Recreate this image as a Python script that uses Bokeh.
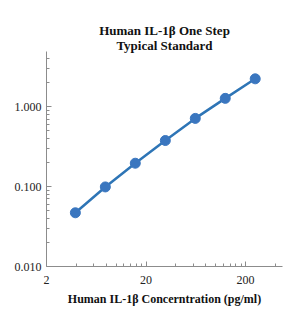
from bokeh.plotting import figure
from bokeh.models import FixedTicker, CustomJSTickFormatter, Title, Range1d
from bokeh.embed import file_html
from bokeh.resources import INLINE

# Data
conc = [3.9, 7.8, 15.6, 31.25, 62.5, 125, 250]
od = [0.047, 0.099, 0.196, 0.377, 0.713, 1.27, 2.23]

x_major = [2, 20, 200]
x_minor = [4, 6, 8, 10, 12, 14, 16, 18, 40, 60, 80, 100, 120, 140, 160, 180, 400]
y_major = [0.01, 0.1, 1]
y_minor = [0.02, 0.03, 0.04, 0.05, 0.06, 0.07, 0.08, 0.09,
           0.2, 0.3, 0.4, 0.5, 0.6, 0.7, 0.8, 0.9, 2, 3, 4]

title_lines = ["Human IL-1β One Step", "Typical Standard"]
x_title = "Human IL-1β Concerntration (pg/ml)"

SERIF = "Liberation Serif"
BLUE = "#2e75b6"

p = figure(width=288, height=315, x_axis_type="log", y_axis_type="log",
           x_range=Range1d(2, 470), y_range=Range1d(0.01, 4.9),
           output_backend="svg", toolbar_location=None,
           min_border_left=46, min_border_right=6, min_border_top=51,
           min_border_bottom=49)
p.title.visible = False
p.add_layout(Title(text=title_lines[1], align="center", text_font=SERIF,
                   text_font_size="13px", text_font_style="bold",
                   text_color="#111111", standoff=-3), "above")
p.add_layout(Title(text=title_lines[0], align="center", text_font=SERIF,
                   text_font_size="13px", text_font_style="bold",
                   text_color="#111111", standoff=0), "above")

p.grid.visible = False
p.outline_line_color = None

for ax in (p.xaxis[0], p.yaxis[0]):
    ax.axis_line_color = "#8c8c8c"
    ax.major_tick_line_color = "#8c8c8c"
    ax.minor_tick_line_color = "#8c8c8c"
    ax.major_tick_in = 5
    ax.major_tick_out = 0
    ax.minor_tick_in = 3
    ax.minor_tick_out = 0
    ax.major_label_text_font = SERIF
    ax.major_label_text_font_size = "12px"
    ax.major_label_text_color = "#222222"

p.xaxis.ticker = FixedTicker(ticks=x_major, minor_ticks=x_minor)
p.yaxis.ticker = FixedTicker(ticks=y_major, minor_ticks=y_minor)
p.xaxis.formatter = CustomJSTickFormatter(code="return String(Math.round(tick));")
p.yaxis.formatter = CustomJSTickFormatter(code="return tick.toFixed(3);")
p.xaxis.major_label_standoff = 9
p.yaxis.major_label_standoff = 5

p.xaxis.axis_label = x_title
p.xaxis.axis_label_text_font = SERIF
p.xaxis.axis_label_text_font_size = "12px"
p.xaxis.axis_label_text_font_style = "bold"
p.xaxis.axis_label_text_color = "#111111"
p.xaxis.axis_label_standoff = 5

p.line(conc, od, line_color=BLUE, line_width=2.5)
p.scatter(conc, od, size=10, fill_color="#3a76bf", line_color="#3a76bf")

open("out.html", "w").write(file_html(p, INLINE))
